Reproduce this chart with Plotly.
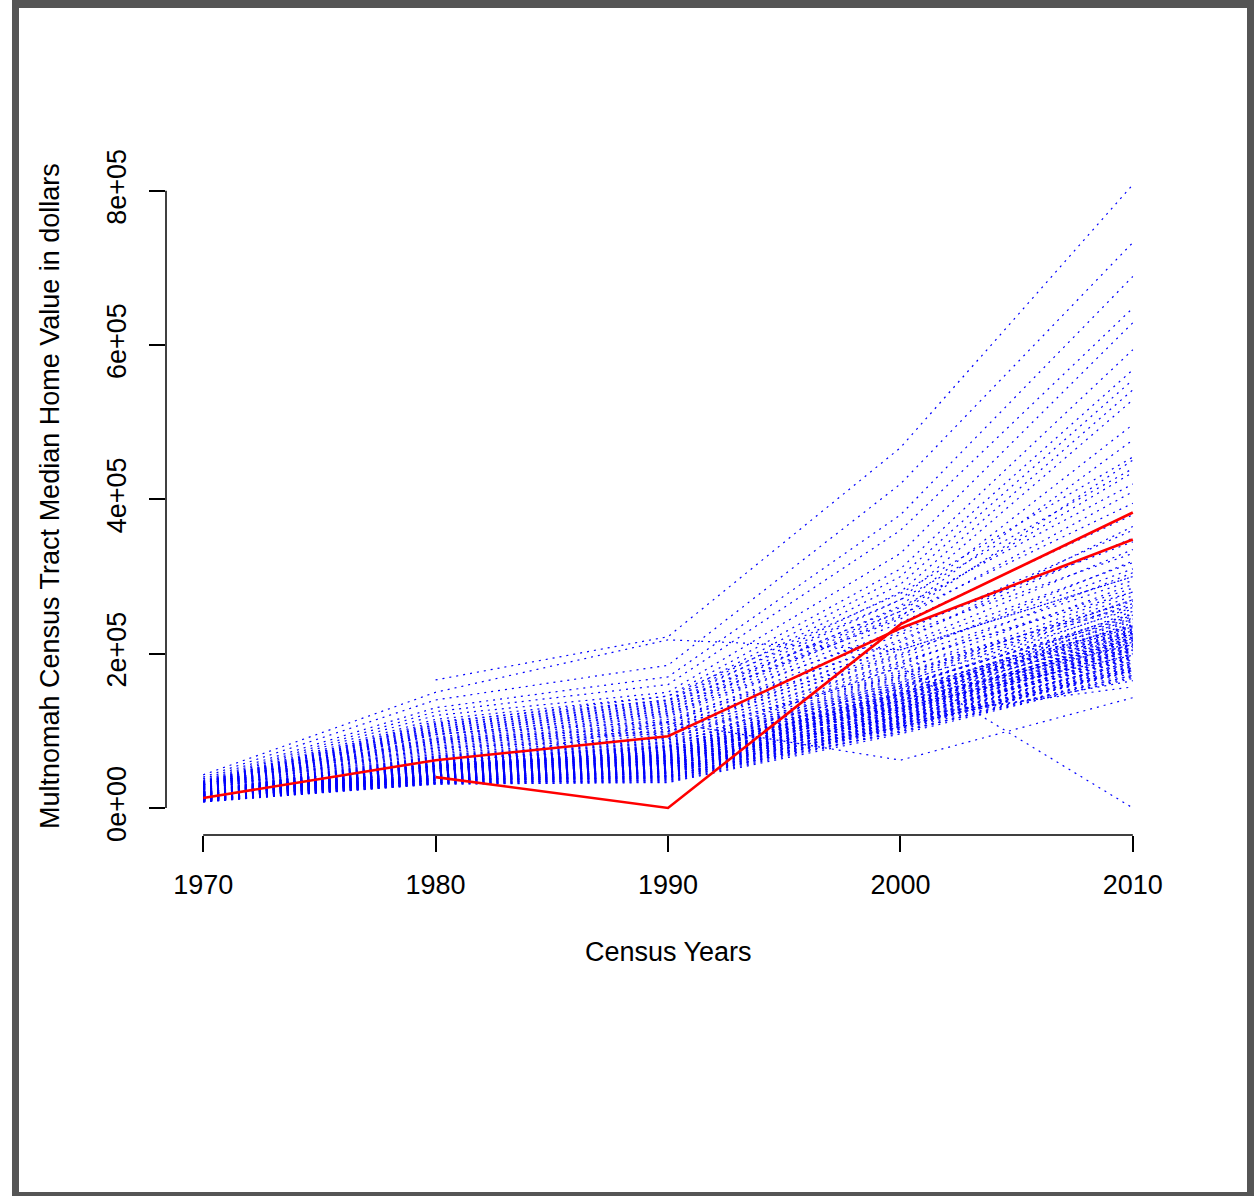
import plotly.graph_objects as go

# Census years
years = [1970, 1980, 1990, 2000, 2010]

# Median home value per tract, in thousands of dollars (None = no data)
# groups: core tracts (90), mid tracts (24), high tracts (14), special tracts (4)
y1970 = [
    8, 8, 9, 9, 10, 10, 10, 11, 11, 11, 12, 12, 12, 12, 13, 13, 13, 13, 14, 14,
    14, 14, 15, 15, 15, 15, 16, 16, 16, 16, 17, 17, 17, 17, 18, 18, 18, 18, 19, 19,
    19, 20, 20, 20, 21, 21, 21, 22, 22, 23,
    9, 10, 11, 12, 12, 14, 15, 15, 17, 18, 18, 20, 21, 21, 23,
    8, 9, 9, 10, 10, 11, 11, 12, 12, 13, 13, 14, 14, 15, 15, 16, 16, 17, 17, 18,
    18, 19, 19, 20, 20,
    24, 24, 25, 25, 26, 26, 27, 27, 28, 28, 29, 29, 30, 30, 31, 32, 32, 33, 34, 26,
    28, 30, 24, 27,
    None, 43, 40, 38, 36, 35, 34, 33, 32, 31, 30, 30, 29, 28,
    15, 14, 12, 11,
]
y1980 = [
    32, 33, 34, 35, 36, 36, 37, 38, 38, 39, 40, 40, 41, 42, 42, 43, 44, 44, 45, 46,
    46, 47, 48, 48, 49, 50, 50, 51, 52, 52, 53, 54, 54, 55, 56, 56, 57, 58, 58, 59,
    60, 61, 62, 62, 63, 64, 65, 66, 67, 68,
    31, 33, 36, 37, 39, 42, 43, 45, 48, 49, 51, 54, 55, 57, 60,
    31, 32, 33, 34, 35, 36, 37, 38, 39, 40, 41, 42, 43, 44, 45, 46, 47, 48, 49, 50,
    51, 52, 53, 54, 55,
    70, 72, 74, 76, 78, 80, 82, 84, 86, 88, 90, 92, 95, 98, 100, 103, 106, 108, 110, 85,
    90, 96, 78, 88,
    166, 150, 140, 130, 125, 120, 115, 112, 108, 105, 102, 100, 98, 95,
    50, 48, 42, 40,
]
y1990 = [
    36, 38, 40, 41, 42, 44, 45, 46, 47, 48, 49, 50, 51, 52, 53, 54, 55, 56, 57, 58,
    58, 59, 60, 61, 62, 63, 64, 65, 66, 67, 68, 69, 70, 71, 72, 73, 74, 75, 76, 77,
    78, 79, 80, 81, 82, 84, 85, 86, 88, 90,
    33, 35, 39, 42, 47, 50, 54, 56, 60, 62, 66, 69, 73, 75, 79,
    34, 37, 39, 41, 43, 45, 46, 48, 49, 51, 52, 54, 55, 57, 58, 60, 61, 62, 64, 65,
    67, 68, 70, 71, 73,
    92, 95, 98, 100, 102, 105, 108, 110, 112, 115, 118, 120, 123, 126, 130, 133, 136, 140, 145, 96,
    104, 112, 90, 99,
    222, 218, 185, 170, 160, 150, 145, 140, 138, 135, 132, 128, 125, 122,
    111, 80, 58, 52,
]
y2000 = [
    100, 105, 98, 110, 102, 115, 108, 120, 112, 125, 118, 105, 128, 122, 115, 130, 124, 135, 119, 138,
    127, 132, 140, 126, 145, 134, 148, 129, 150, 142, 136, 155, 146, 131, 158, 150, 162, 144, 165, 152,
    139, 168, 156, 147, 170, 160, 154, 172, 163, 175,
    96, 106, 109, 113, 118, 121, 125, 128, 133, 136, 141, 146, 149, 152, 158,
    99, 103, 107, 111, 104, 114, 108, 117, 112, 120, 116, 124, 119, 127, 122, 131, 126, 135, 130, 139,
    134, 143, 138, 147, 142,
    178, 185, 190, 198, 205, 210, 200, 218, 225, 215, 232, 240, 228, 250, 245, 260, 255, 270, 278, 172,
    195, 208, 182, 188,
    467, 205, 420, 380, 360, 330, 310, 300, 290, 280, 270, 262, 255, 248,
    62, 183, 118, 110,
]
y2010 = [
    168, 180, 175, 190, 172, 200, 185, 205, 178, 215, 195, 182, 220, 210, 188, 225, 200, 230, 192, 240,
    212, 222, 235, 205, 245, 218, 250, 208, 228, 255, 215, 260, 232, 198, 248, 238, 265, 226, 270, 242,
    212, 275, 252, 234, 262, 246, 236, 280, 258, 268,
    170, 177, 184, 187, 194, 197, 203, 206, 213, 220, 225, 229, 237, 244, 251,
    172, 178, 183, 187, 179, 196, 181, 199, 190, 204, 193, 208, 197, 211, 203, 217, 207, 221, 212, 227,
    216, 231, 219, 236, 223,
    290, 305, 280, 320, 300, 335, 310, 350, 330, 365, 345, 380, 360, 395, 410, 420, 435, 440, 455, 270,
    295, 318, 262, 285,
    808, 300, 733, 689, 648, 629, 594, 568, 555, 542, 529, 497, 477, 451,
    143, 0, 157, 165,
]

# Highlighted tracts (red), thousands of dollars
red_a = [13, 62, 93, 233, 348]
red_b = [None, 40, 0, 238, 383]

y_tick_vals = [0, 200000, 400000, 600000, 800000]
y_tick_text = ["0e+00", "2e+05", "4e+05", "6e+05", "8e+05"]

FONT = "Liberation Sans, Arial, Helvetica, sans-serif"


def dollars(vals):
    return [None if v is None else v * 1000 for v in vals]


fig = go.Figure()
cols = [y1970, y1980, y1990, y2000, y2010]
for i in range(len(y1970)):
    vals = [c[i] for c in cols]
    fig.add_trace(go.Scatter(
        x=years, y=dollars(vals), mode="lines",
        line=dict(color="#0000FF", width=1.2, dash="2px,5px"),
        hoverinfo="skip", showlegend=False, connectgaps=False,
    ))
for r in (red_a, red_b):
    fig.add_trace(go.Scatter(
        x=years, y=dollars(r), mode="lines",
        line=dict(color="#FF0000", width=2.6),
        hoverinfo="skip", showlegend=False, connectgaps=False,
    ))

# pixel geometry helpers
L, R, T, B = 166, 1170, 160, 835
W, H = 1254, 1196


def px(x):
    return (x - L) / (R - L)


def py(y):
    return (B - y) / (B - T)


shapes = [
    # axis lines spanning tick range (R style)
    dict(type="line", xref="x", yref="paper", x0=1970, x1=2010, y0=0, y1=0,
         line=dict(color="black", width=1.5)),
    dict(type="line", xref="paper", yref="y", x0=0, x1=0, y0=0, y1=800000,
         line=dict(color="black", width=1.5)),
]
gray = "#555555"
frame = [
    (12, 0, 19, 1196),      # left
    (12, 0, 1254, 8),       # top
    (1247, 0, 1254, 1196),  # right
    (12, 1192, 1254, 1196), # bottom
]
for x0, y0, x1, y1 in frame:
    shapes.append(dict(type="rect", xref="paper", yref="paper",
                       x0=px(x0), x1=px(x1), y0=py(y1), y1=py(y0),
                       fillcolor=gray, line=dict(width=0), layer="above"))

fig.update_layout(
    width=W, height=H, autosize=False,
    margin=dict(l=L, r=W - R, t=T, b=H - B, pad=0),
    paper_bgcolor="white", plot_bgcolor="white",
    font=dict(family=FONT, size=27, color="black"),
    shapes=shapes,
    xaxis=dict(
        range=[1968.4, 2011.6], tickmode="array", tickvals=years,
        ticktext=[str(y) for y in years],
        ticks="outside", ticklen=16, tickwidth=1.5, tickcolor="black",
        showgrid=False, zeroline=False, showline=False,
        tickfont=dict(family=FONT, size=27, color="black"),
        ticklabelstandoff=10,
    ),
    yaxis=dict(
        range=[-35000, 840000], tickmode="array", tickvals=y_tick_vals,
        ticktext=y_tick_text, tickangle=-90,
        ticks="outside", ticklen=16, tickwidth=1.5, tickcolor="black",
        showgrid=False, zeroline=False, showline=False,
        tickfont=dict(family=FONT, size=27, color="black"),
        ticklabelstandoff=12,
    ),
    annotations=[
        dict(text="Census Years", xref="x", yref="paper", x=1990, y=py(952),
             showarrow=False, xanchor="center", yanchor="middle",
             font=dict(family=FONT, size=27, color="black")),
        dict(text="Multnomah Census Tract Median Home Value in dollars",
             xref="paper", yref="paper", x=px(50), y=py(496), textangle=-90,
             showarrow=False, xanchor="center", yanchor="middle",
             font=dict(family=FONT, size=27, color="black")),
    ],
)

fig.write_html(
    "out.html",
    config={"displayModeBar": False},
    post_script="document.body.style.margin='0';document.body.style.overflow='hidden';",
)
